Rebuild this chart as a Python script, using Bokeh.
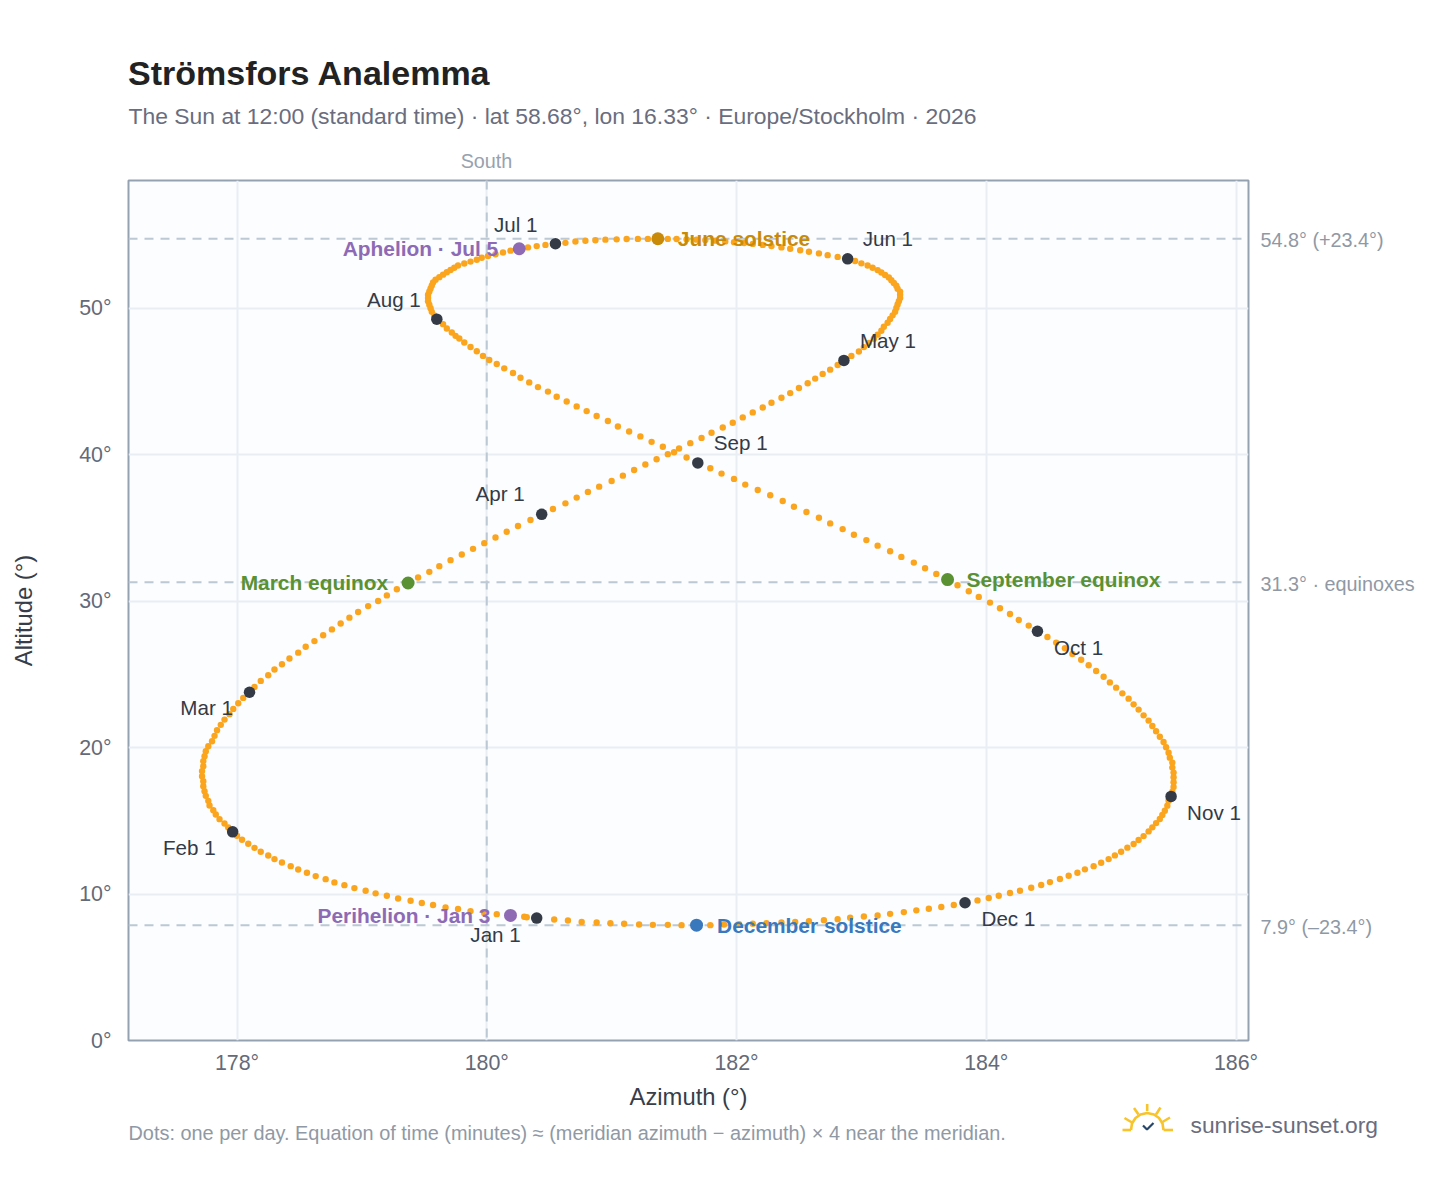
from bokeh.plotting import figure
from bokeh.layouts import column, row
from bokeh.core.properties import value
from bokeh.models import Label, Span, FixedTicker, Range1d
from bokeh.embed import file_html
from bokeh.resources import INLINE

# ---- daily sun position (azimuth deg, altitude deg) ----
az_jan = [180.40,180.30,180.19,180.08,179.98,179.87,179.77,179.67,179.57,179.48,179.39,179.29,179.20,179.11,179.03,178.94,178.86,178.78,178.71,178.63,178.56,178.49,178.43,178.36,178.30,178.25,178.19,178.14,178.09,178.04,178.00]
alt_jan = [8.36,8.45,8.54,8.63,8.70,8.84,8.98,9.09,9.25,9.39,9.55,9.70,9.89,10.05,10.23,10.41,10.61,10.80,11.02,11.23,11.46,11.68,11.91,12.16,12.39,12.64,12.89,13.16,13.44,13.71,13.98]
az_feb = [177.965,177.93,177.90,177.86,177.83,177.81,177.78,177.77,177.75,177.74,177.73,177.73,177.72,177.72,177.73,177.73,177.74,177.75,177.77,177.80,177.82,177.84,177.87,177.90,177.94,177.97,178.01,178.05]
alt_feb = [14.25,14.55,14.82,15.12,15.44,15.73,16.05,16.37,16.71,17.03,17.37,17.71,18.05,18.40,18.74,19.08,19.42,19.76,20.10,20.44,20.81,21.19,21.56,21.92,22.29,22.65,23.04,23.40]
az_mar = [178.10,178.14,178.19,178.25,178.30,178.36,178.42,178.49,178.55,178.62,178.69,178.76,178.83,178.90,178.97,179.05,179.13,179.20,179.28,179.37,179.45,179.54,179.62,179.71,179.80,179.89,179.98,180.07,180.16,180.25,180.35]
alt_mar = [23.79,24.15,24.56,24.95,25.34,25.70,26.09,26.49,26.89,27.28,27.68,28.08,28.48,28.88,29.27,29.67,30.02,30.40,30.82,31.25,31.62,32.01,32.40,32.81,33.20,33.58,33.97,34.36,34.75,35.14,35.55]
az_apr = [180.44,180.53,180.63,180.72,180.81,180.90,181.00,181.09,181.18,181.27,181.36,181.45,181.54,181.63,181.72,181.80,181.89,181.97,182.05,182.13,182.21,182.28,182.36,182.43,182.50,182.57,182.63,182.69,182.75,182.81]
alt_apr = [35.94,36.30,36.69,37.08,37.47,37.83,38.22,38.58,38.97,39.34,39.70,40.05,40.43,40.80,41.16,41.51,41.87,42.19,42.56,42.90,43.24,43.56,43.90,44.22,44.57,44.89,45.21,45.53,45.82,46.14]
az_may = [182.86,182.92,182.98,183.02,183.06,183.10,183.13,183.16,183.18,183.21,183.23,183.25,183.27,183.28,183.29,183.30,183.31,183.31,183.31,183.29,183.28,183.26,183.24,183.22,183.19,183.16,183.13,183.09,183.05,183.00,182.95]
alt_may = [46.45,46.76,47.06,47.36,47.65,47.93,48.21,48.48,48.75,49.02,49.28,49.53,49.78,50.03,50.27,50.50,50.72,50.94,51.15,51.35,51.55,51.74,51.93,52.11,52.29,52.46,52.62,52.78,52.93,53.08,53.24]
az_jun = [182.89,182.81,182.73,182.66,182.58,182.51,182.43,182.36,182.28,182.21,182.13,182.06,181.98,181.91,181.83,181.75,181.68,181.60,181.52,181.45,181.37,181.29,181.21,181.12,181.04,180.95,180.87,180.79,180.71,180.63]
alt_jun = [53.39,53.52,53.64,53.76,53.87,53.98,54.08,54.17,54.26,54.34,54.41,54.47,54.53,54.58,54.63,54.67,54.70,54.72,54.74,54.75,54.76,54.75,54.75,54.74,54.72,54.70,54.66,54.62,54.57,54.48]
az_jul = [180.55,180.47,180.40,180.33,180.26,180.19,180.13,180.07,180.01,179.96,179.92,179.87,179.82,179.77,179.74,179.71,179.68,179.65,179.62,179.59,179.57,179.56,179.55,179.54,179.53,179.53,179.53,179.54,179.55,179.56,179.58]
alt_jul = [54.42,54.34,54.26,54.17,54.08,53.95,53.82,53.70,53.58,53.46,53.33,53.20,53.07,52.93,52.78,52.63,52.47,52.31,52.14,51.96,51.77,51.57,51.37,51.16,50.94,50.72,50.49,50.26,50.02,49.77,49.52]
az_aug = [179.60,179.65,179.68,179.72,179.75,179.78,179.82,179.87,179.92,179.97,180.02,180.08,180.14,180.21,180.27,180.34,180.41,180.49,180.56,180.64,180.72,180.80,180.88,180.97,181.05,181.14,181.23,181.32,181.41,181.50,181.60]
alt_aug = [49.27,48.93,48.63,48.36,48.13,47.95,47.67,47.37,47.08,46.76,46.48,46.21,45.91,45.59,45.27,44.95,44.63,44.32,43.97,43.65,43.31,42.99,42.65,42.31,41.94,41.60,41.26,40.89,40.55,40.18,39.82]
az_sep = [181.69,181.79,181.88,181.98,182.07,182.17,182.27,182.37,182.46,182.56,182.66,182.75,182.85,182.94,183.04,183.13,183.23,183.32,183.42,183.51,183.60,183.69,183.77,183.86,183.94,184.03,184.11,184.19,184.26,184.34]
alt_sep = [39.45,39.09,38.72,38.36,37.97,37.60,37.24,36.85,36.46,36.10,35.71,35.32,34.93,34.54,34.18,33.80,33.42,33.03,32.64,32.26,31.87,31.48,31.09,30.68,30.30,29.91,29.52,29.13,28.72,28.34]
az_oct = [184.41,184.49,184.56,184.63,184.69,184.76,184.82,184.88,184.94,184.99,185.04,185.09,185.14,185.18,185.22,185.26,185.30,185.33,185.36,185.39,185.42,185.44,185.46,185.47,185.49,185.49,185.50,185.50,185.50,185.50,185.49]
alt_oct = [27.95,27.56,27.18,26.79,26.40,26.01,25.63,25.24,24.85,24.46,24.10,23.71,23.35,22.96,22.60,22.21,21.85,21.48,21.12,20.75,20.39,20.03,19.66,19.32,18.98,18.64,18.30,17.98,17.64,17.32,17.00]
az_nov = [185.48,185.46,185.45,185.43,185.41,185.39,185.36,185.33,185.30,185.26,185.22,185.18,185.13,185.08,185.03,184.98,184.92,184.86,184.79,184.73,184.66,184.59,184.51,184.44,184.36,184.27,184.19,184.10,184.02,183.93]
alt_nov = [16.67,16.38,16.04,15.69,15.40,15.13,14.85,14.56,14.28,13.96,13.69,13.42,13.17,12.89,12.64,12.39,12.14,11.91,11.69,11.46,11.25,11.03,10.82,10.62,10.43,10.23,10.07,9.89,9.73,9.57]
az_dec = [183.83,183.74,183.64,183.54,183.44,183.34,183.23,183.13,183.02,182.91,182.81,182.70,182.58,182.47,182.36,182.24,182.13,182.02,181.90,181.79,181.68,181.56,181.45,181.33,181.22,181.10,180.99,180.88,180.76,180.65,180.54]
alt_dec = [9.41,9.25,9.12,9.00,8.89,8.77,8.65,8.54,8.47,8.38,8.29,8.22,8.15,8.10,8.06,8.01,7.97,7.95,7.92,7.88,7.88,7.88,7.90,7.90,7.92,7.97,8.01,8.06,8.10,8.20,8.26]
# one further dot seen just beside Jan 2
az_extra = [180.32]
alt_extra = [8.42]

months = ["Jan 1","Feb 1","Mar 1","Apr 1","May 1","Jun 1","Jul 1","Aug 1","Sep 1","Oct 1","Nov 1","Dec 1"]
az_months = [az_jan,az_feb,az_mar,az_apr,az_may,az_jun,az_jul,az_aug,az_sep,az_oct,az_nov,az_dec]
alt_months = [alt_jan,alt_feb,alt_mar,alt_apr,alt_may,alt_jun,alt_jul,alt_aug,alt_sep,alt_oct,alt_nov,alt_dec]

x_ticks = [178,180,182,184,186]
y_ticks = [0,10,20,30,40,50]
ref_alts = [54.76,31.3,7.88]
ref_texts = ["54.8° (+23.4°)","31.3° · equinoxes","7.9° (–23.4°)"]

FONT = "Liberation Sans"
W, H = 1440, 1180
X0, X1 = 177.131, 186.10
Y0, Y1 = 0.0, 58.74
FL, FR, FT, FB = 128, 1248, 180, 1040   # frame edges, in window pixels

# page layer: a figure whose frame is the whole canvas, in pixel coordinates; it carries
# the texts and the logo that lie outside the chart frame
bg = figure(width=W, height=H, output_backend="svg", toolbar_location=None,
            x_range=Range1d(0,W), y_range=Range1d(H,0), x_axis_location=None, y_axis_location=None,
            min_border=0, outline_line_color=None, background_fill_color="#ffffff",
            border_fill_color="#ffffff")
bg.grid.visible = False

def text_at(px, py, text, size, color, style="normal", align="left"):
    bg.text([px], [py], text=[text], text_align=align, text_baseline="middle", text_font=value(FONT),
            text_font_size=size, text_color=color, text_font_style=style)

text_at(127.5, 72, "Strömsfors Analemma", "34px", "#222222", "bold")
text_at(128, 115.5, "The Sun at 12:00 (standard time) · lat 58.68°, lon 16.33° · Europe/Stockholm · 2026", "22.9px", "#696d7e")
text_at(486, 160.5, "South", "19.8px", "#98a2ae", align="center")
for a, t in zip(ref_alts, ref_texts):
    text_at(1260, FB-(a-Y0)/(Y1-Y0)*(FB-FT)+1.5, t, "19.8px", "#8f99a5")
text_at(128, 1132.5, "Dots: one per day. Equation of time (minutes) ≈ (meridian azimuth − azimuth) × 4 near the meridian.", "19.9px", "#8f99a5")
text_at(1190, 1124.5, "sunrise-sunset.org", "22.8px", "#696d7e")

def stroke(points, color, width=2.6):
    bg.line([a for a, b in points], [b for a, b in points], line_color=color, line_width=width)

SUN = "#f8c42c"
arc = [(1130.5,1129.5),(1131.5,1123),(1135,1117.5),(1140,1114),(1146.7,1112.5),(1153.5,1114),(1158.5,1117.5),(1162,1123),(1163,1129.5)]
stroke(arc, SUN)
stroke([(1122,1129.5),(1130.5,1129.5)], SUN)
stroke([(1163,1129.5),(1172.5,1129.5)], SUN)
stroke([(1146.7,1103.5),(1146.7,1110.5)], SUN)
stroke([(1133.5,1107.5),(1138,1114)], SUN)
stroke([(1160,1107),(1155.5,1114)], SUN)
stroke([(1124,1117.5),(1131.5,1122)], SUN)
stroke([(1169.5,1117),(1162,1121.5)], SUN)
stroke([(1142.5,1125),(1146.5,1129),(1153,1122.5)], "#26476b", 2.2)

p = figure(width=W, height=H, output_backend="svg", toolbar_location=None,
           x_range=Range1d(X0,X1), y_range=Range1d(Y0,Y1),
           min_border_left=FL, min_border_right=W-FR, min_border_top=FT, min_border_bottom=H-FB,
           background_fill_color="#fbfdff", border_fill_color=None,
           outline_line_color="#94a1b0", outline_line_width=2)

for ax, ticks, lab in ((p.xaxis[0], x_ticks, "Azimuth (°)"), (p.yaxis[0], y_ticks, "Altitude (°)")):
    ax.ticker = FixedTicker(ticks=ticks)
    ax.major_label_overrides = {t: f"{t}°" for t in ticks}
    ax.axis_line_color = None
    ax.major_tick_line_color = None
    ax.minor_tick_line_color = None
    ax.major_label_text_font = FONT
    ax.major_label_text_font_size = "21.4px"
    ax.major_label_text_color = "#646a78"
    ax.axis_label = lab
    ax.axis_label_text_font = FONT
    ax.axis_label_text_font_size = "23.8px"
    ax.axis_label_text_font_style = "normal"
    ax.axis_label_text_color = "#373d49"
p.xaxis[0].major_label_standoff = 4
p.xaxis[0].axis_label_standoff = 5
p.yaxis[0].major_label_standoff = 11
p.yaxis[0].axis_label_standoff = 39

for g in (p.xgrid[0], p.ygrid[0]):
    g.grid_line_color = "#e9eef4"
    g.grid_line_width = 2
p.xgrid[0].ticker = FixedTicker(ticks=x_ticks)
p.ygrid[0].ticker = FixedTicker(ticks=y_ticks)

for a in ref_alts:
    p.add_layout(Span(location=a, dimension="width", line_color="#bcc8d4", line_width=2,
                      line_dash=[9,7], level="underlay"))
p.add_layout(Span(location=180, dimension="height", line_color="#bcc8d4", line_width=2,
                  line_dash=[9,7], level="underlay"))

az_all = sum(az_months, []) + az_extra
alt_all = sum(alt_months, []) + alt_extra
p.scatter(az_all, alt_all, size=6.4, color="#fba51e", line_color=None)

p.scatter([a[0] for a in az_months], [a[0] for a in alt_months], size=11.5, color="#343a46", line_color=None)

highlights = [
    ("Perihelion · Jan 3", az_jan[2], alt_jan[2], "#8e6ab5", "right", -20, 0),
    ("March equinox", az_mar[19], alt_mar[19], "#5a9132", "right", -20, 0),
    ("Aphelion · Jul 5", az_jul[4], alt_jul[4], "#8e6ab5", "right", -21, 0),
    ("June solstice", az_jun[20], alt_jun[20], "#c98a0a", "left", 20, 0),
    ("September equinox", az_sep[21], alt_sep[21], "#5a9132", "left", 19, 0),
    ("December solstice", az_dec[20], alt_dec[20], "#3a78bd", "left", 20.5, 0),
]
p.scatter([h[1] for h in highlights], [h[2] for h in highlights], size=13,
          color=[h[3] for h in highlights], line_color=None)

# month labels: align, x offset, y offset relative to the dot
month_offsets = {
    "Jan 1": ("right",-16,-16.5), "Feb 1": ("right",-17,-16), "Mar 1": ("right",-16.5,-15.5),
    "Apr 1": ("right",-17,20.5), "May 1": ("left",16,19.5), "Jun 1": ("left",15,20.5),
    "Jul 1": ("right",-18,19.5), "Aug 1": ("right",-16,20), "Sep 1": ("left",16,20),
    "Oct 1": ("left",16.5,-16), "Nov 1": ("left",16,-16), "Dec 1": ("left",16.5,-16),
}
for name, xs, ys in zip(months, az_months, alt_months):
    al, ox, oy = month_offsets[name]
    p.add_layout(Label(x=xs[0], y=ys[0], text=name, text_align=al, text_baseline="middle",
                       x_offset=ox, y_offset=oy, text_font=FONT, text_font_size="20.6px",
                       text_color="#343a46"))
for text, x, y, c, al, ox, oy in highlights:
    p.add_layout(Label(x=x, y=y, text=text, text_align=al, text_baseline="middle",
                       x_offset=ox, y_offset=oy, text_font=FONT, text_font_size="20.9px",
                       text_font_style="bold", text_color=c))

assert [len(a) for a in az_months] == [31,28,31,30,31,30,31,31,30,31,30,31]
assert [len(a) for a in alt_months] == [31,28,31,30,31,30,31,31,30,31,30,31]

layout = column(row(bg), row(p, margin=(-H,0,0,0)))
open("out.html", "w").write(file_html(layout, INLINE))
